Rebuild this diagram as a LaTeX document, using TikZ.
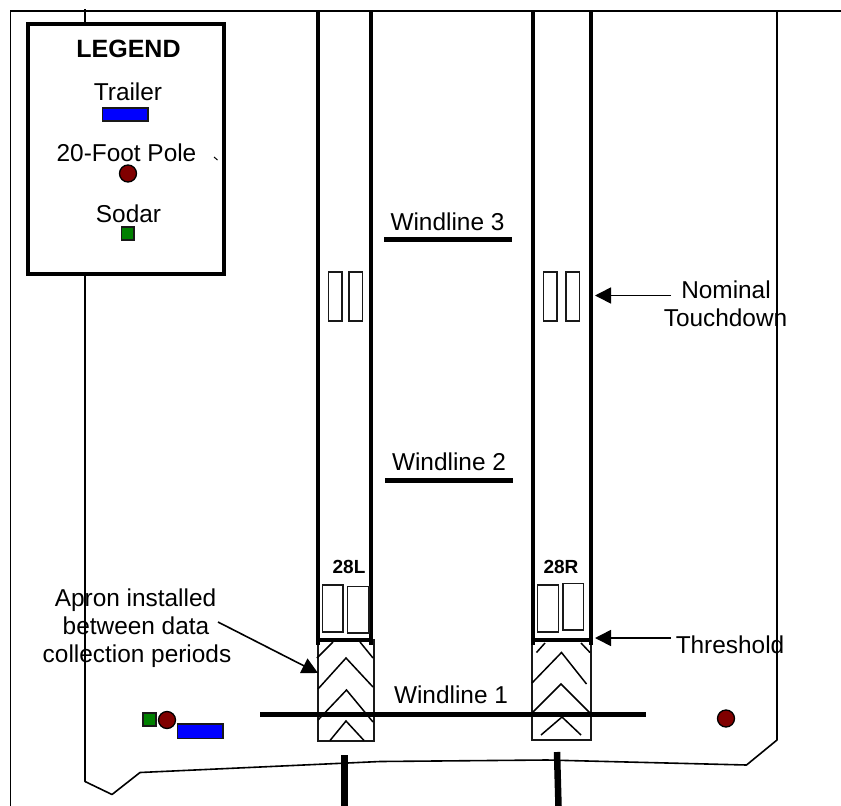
\documentclass[tikz,border=0pt]{standalone}
\usepackage{fontspec}
\setmainfont{Liberation Sans}
\usetikzlibrary{arrows.meta}
\tikzset{
  x=1pt,y=-1pt,
  lbl/.style={anchor=base,inner sep=0pt,outer sep=0pt,font=\fontsize{24.4}{28}\selectfont,text=black},
  rwylbl/.style={anchor=base,inner sep=0pt,outer sep=0pt,font=\fontsize{19}{23}\selectfont\bfseries},
  thin line/.style={draw=black,line width=1.6pt},
  runway/.style={draw=black,line width=4.6pt},
  windline/.style={draw=black,line width=5.5pt},
  stub/.style={draw=black,line width=6.5pt},
  mark box/.style={draw=black!90,line width=1.5pt,fill=white},
  chev/.style={draw=black,line width=1.5pt},
  trailer/.style={draw=black!90,line width=1.3pt,fill=blue},
  pole/.style={draw=black,line width=1.3pt,fill=black!50!red},
  sodar/.style={draw=black!90,line width=1.3pt,fill=black!50!green},
  leader/.style={draw=black,line width=1.6pt,-{Triangle[length=16pt,width=16pt]}},
}
\begin{document}
\begin{tikzpicture}
\useasboundingbox (0,0) rectangle (841,806);
% site boundary
\draw[thin line] (10.5,806) -- (10.5,11) -- (841,11);
\draw[thin line,line join=round] (85,9) -- (85,781.5) -- (112,794.5) -- (140,772.5) -- (380,761.5) -- (547,760) -- (746.5,765) -- (777,740) -- (777,11);
% aprons
\draw[mark box,fill=none] (318,640) rectangle (374,741);
\draw[mark box,fill=none] (532,640) rectangle (591,740);
\draw[chev] (317,658) -- (333,642);
\draw[chev] (360,642) -- (373,658);
\draw[chev] (318,689) -- (346,658) -- (373,687);
\draw[chev] (318,720) -- (346.5,690) -- (373,722);
\draw[chev] (330,740.5) -- (346,721) -- (364,740.5);
\draw[chev] (536.5,652.5) -- (545,643);
\draw[chev] (581,643) -- (590,652.5);
\draw[chev] (532,683) -- (561.5,652.5) -- (586.5,684);
\draw[chev] (533,712) -- (561,684) -- (590,713);
\draw[chev] (541,735) -- (562,717) -- (581,735);
% runways
\draw[runway,line cap=butt] (318,11) -- (318,645);
\draw[runway,line cap=butt] (371,11) -- (371,645);
\draw[runway,line cap=butt] (533,11) -- (533,645);
\draw[runway,line cap=butt] (591,11) -- (591,645);
\draw[runway] (316,640) -- (373,640);
\draw[runway] (531,640) -- (593,640);
% touchdown and threshold marks
\draw[mark box] (328.5,272) rectangle (342,321);
\draw[mark box] (349,272) rectangle (362.5,321);
\draw[mark box] (543.5,272) rectangle (557,321);
\draw[mark box] (566,272) rectangle (579.5,321);
\draw[mark box] (322.5,585) rectangle (343,632);
\draw[mark box] (347.5,586.5) rectangle (369,633);
\draw[mark box] (537.5,585) rectangle (558.5,632);
\draw[mark box] (563,583.5) rectangle (583.5,630);
% windlines
\draw[windline] (260,714.5) -- (646,714.5);
\draw[windline] (384,239.5) -- (512,239.5);
\draw[windline] (385,480.5) -- (513,480.5);
% extended centre lines
\draw[stub] (344.5,755) -- (344.5,806);
\draw[stub] (557,752) -- (558.5,806);
% site equipment
\draw[sodar] (143,713) rectangle (156,726);
\node[pole,circle,minimum size=17pt,inner sep=0pt] (p1) at (167,720) {};
\draw[trailer] (177.5,724) rectangle (223,738.5);
\node[pole,circle,minimum size=17pt,inner sep=0pt] (p2) at (726,718.5) {};
% legend
\draw[draw=black,line width=4.5pt,fill=white] (28,24) rectangle (224,274);
\node[lbl,font=\fontsize{25}{28}\selectfont\bfseries,text=black] (leg) at (128.5,57.5) {LEGEND};
\node[lbl] (t1) at (128,100.5) {Trailer};
\draw[trailer] (102.5,108) rectangle (148,121);
\node[lbl] (t2) at (126.5,161.5) {20-Foot Pole};
\node[pole,circle,minimum size=17pt,inner sep=0pt] (p3) at (128,173.5) {};
\draw[black,line width=1pt] (214,157) -- (217.5,160);
\node[lbl] (t3) at (128.5,222.5) {Sodar};
\draw[sodar] (121.5,227) rectangle (134,240);
% labels
\node[lbl] (w3) at (447.5,230) {Windline 3};
\node[lbl] (w2) at (449,470) {Windline 2};
\node[lbl] (w1) at (451,703) {Windline 1};
\node[rwylbl] (r1) at (349,573) {28L};
\node[rwylbl] (r2) at (561,573) {28R};
\node[lbl] (a1) at (135.5,606) {Apron installed};
\node[lbl] (a2) at (136,634) {between data};
\node[lbl] (a3) at (137,662) {collection periods};
\node[lbl] (n1) at (726,298) {Nominal};
\node[lbl] (n2) at (725.5,326) {Touchdown};
\node[lbl] (th) at (730,653) {Threshold};
% leaders
\coordinate (c1) at (671,295.5);
\coordinate (c2) at (595,295.5);
\coordinate (c3) at (671,638);
\coordinate (c4) at (595,638);
\coordinate (c5) at (218,622);
\coordinate (c6) at (318,673);
\draw[leader] (c1) -- (c2);
\draw[leader] (c3) -- (c4);
\draw[leader] (c5) -- (c6);
\end{tikzpicture}
\end{document}
